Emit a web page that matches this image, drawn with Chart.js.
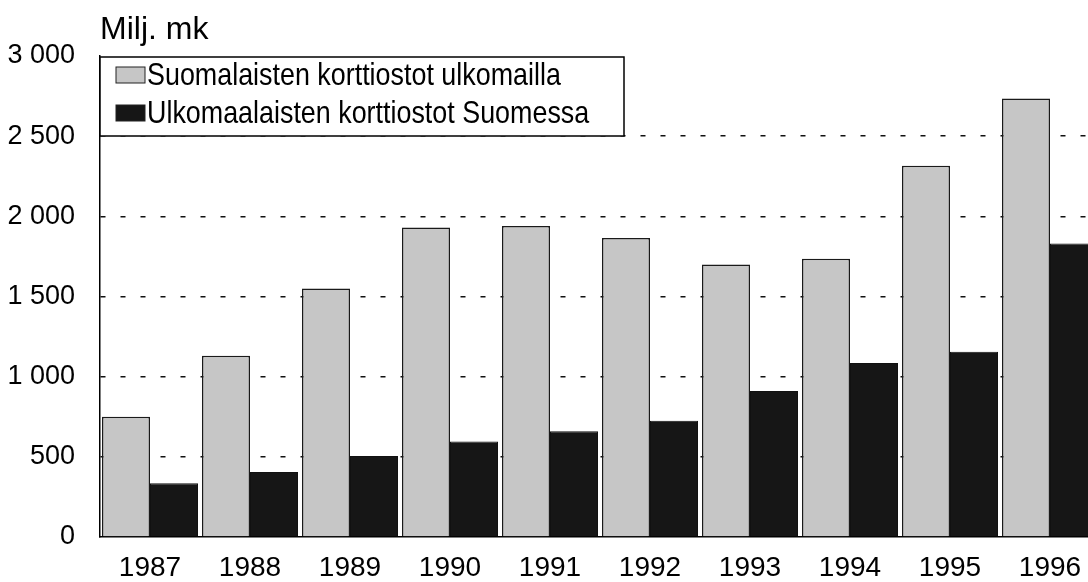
<!DOCTYPE html>
<html>
<head>
<meta charset="utf-8">
<style>
  html, body { margin: 0; padding: 0; background: #fff; overflow: hidden; }
  #wrap { width: 1100px; height: 582px; }
</style>
<script src="https://cdn.jsdelivr.net/npm/chart.js@4/dist/chart.umd.min.js"></script>
</head>
<body>
<div id="wrap"><canvas id="korttiChart" width="1100" height="582"></canvas></div>
<script>
// data (Milj. mk)
const years = ['1987', '1988', '1989', '1990', '1991', '1992', '1993', '1994', '1995', '1996'];
const suomalaiset = [750, 1130, 1550, 1930, 1940, 1865, 1700, 1735, 2315, 2735];
const ulkomaalaiset = [335, 405, 505, 595, 660, 725, 910, 1085, 1155, 1830];
const yTickLabels = ['0', '500', '1 000', '1 500', '2 000', '2 500', '3 000'];
const unitLabel = 'Milj. mk';

const FONT = "'Liberation Sans', Arial, Helvetica, sans-serif";

// boxed legend inside the plot + unit text top left
const boxLegend = {
    id: 'boxLegend',
    afterDraw(chart) {
        const c = chart.ctx;
        const area = chart.chartArea;
        c.save();
        c.fillStyle = '#000';
        c.font = '32px ' + FONT;
        c.textBaseline = 'alphabetic';
        c.fillText(unitLabel, area.left, 39);

        const x0 = area.left, y0 = area.top + 1, w = 524, h = 79;
        c.fillStyle = '#fff';
        c.fillRect(x0, y0, w, h);
        c.strokeStyle = '#000';
        c.lineWidth = 1.5;
        c.strokeRect(x0, y0, w, h);

        const rows = [y0 + 18, y0 + 56];
        chart.data.datasets.forEach((ds, i) => {
            const cy = rows[i];
            c.fillStyle = ds.backgroundColor;
            c.fillRect(x0 + 16, cy - 8, 29, 16);
            c.lineWidth = 1;
            c.strokeStyle = '#222';
            c.strokeRect(x0 + 16, cy - 8, 29, 16);
            // tall, slightly condensed lettering like the print
            c.save();
            c.translate(x0 + 47, cy + 1);
            c.scale(0.84, 1);
            c.font = '32px ' + FONT;
            c.textBaseline = 'middle';
            c.fillStyle = '#000';
            c.fillText(ds.label, 0, 0);
            c.restore();
        });
        c.restore();
    }
};

const ctx = document.getElementById('korttiChart').getContext('2d');
new Chart(ctx, {
    type: 'bar',
    data: {
        labels: years,
        datasets: [{
            label: 'Suomalaisten korttiostot ulkomailla',
            data: suomalaiset,
            backgroundColor: '#c6c6c6',
            borderColor: '#1a1a1a',
            borderWidth: 1.5
        }, {
            label: 'Ulkomaalaisten korttiostot Suomessa',
            data: ulkomaalaiset,
            backgroundColor: '#161616',
            borderColor: '#111',
            borderWidth: 1
        }]
    },
    options: {
        responsive: false,
        animation: false,
        layout: { padding: { top: 56, right: 0, left: 0, bottom: 0 } },
        datasets: {
            bar: { categoryPercentage: 0.96, barPercentage: 1.0 }
        },
        scales: {
            x: {
                grid: { display: false },
                border: { color: '#000', width: 1.5 },
                ticks: {
                    color: '#000',
                    font: { family: FONT, size: 28 },
                    padding: 6,
                    maxRotation: 0
                },
                afterFit(scale) { scale.height = 45; }
            },
            y: {
                min: 0,
                max: 3000,
                grid: {
                    color: ctx => (ctx.tick && (ctx.tick.value === 0 || ctx.tick.value === 3000)) ? 'rgba(0,0,0,0)' : '#111',
                    lineWidth: 1.5,
                    drawTicks: false
                },
                border: { color: '#000', width: 1.5, dash: [5, 15] },
                ticks: {
                    stepSize: 500,
                    color: '#000',
                    font: { family: FONT, size: 27 },
                    padding: 25,
                    callback: (value, index) => yTickLabels[index]
                },
                afterFit(scale) { scale.width = 100; }
            }
        },
        plugins: {
            legend: { display: false },
            tooltip: { enabled: false }
        }
    },
    plugins: [boxLegend]
});
</script>
</body>
</html>
